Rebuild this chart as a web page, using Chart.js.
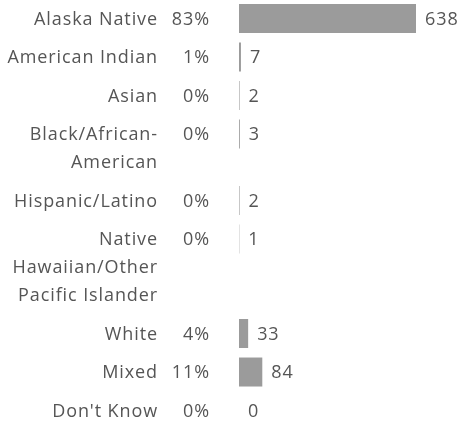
<!DOCTYPE html>
<html>
<head>
<meta charset="utf-8">
<script src="https://cdn.jsdelivr.net/npm/chart.js@4"></script>
<style>
  html, body { margin: 0; padding: 0; background: #ffffff; }
  #wrap { width: 462px; height: 424px; position: relative; }
</style>
</head>
<body>
<div id="wrap"><canvas id="c"></canvas></div>
<script>
// ---- data ----
const categories = [
  ["Alaska Native"],
  ["American Indian"],
  ["Asian"],
  ["Black/African-", "American"],
  ["Hispanic/Latino"],
  ["Native", "Hawaiian/Other", "Pacific Islander"],
  ["White"],
  ["Mixed"],
  ["Don't Know"]
];
const counts = [638, 7, 2, 3, 2, 1, 33, 84, 0];
const percents = [83, 1, 0, 0, 0, 0, 4, 11, 0];

// ---- layout helpers (row positions follow the number of label lines) ----
const LINE_RATIO = 28 / 38.5;
const rowPos = [];
categories.reduce((acc, lines, i) => {
  rowPos.push(acc);
  return acc + 1 + (lines.length - 1) * LINE_RATIO;
}, 0);

const FONT = '18px "Open Sans", sans-serif';
const TEXT_COLOR = '#555555';
const BAR_COLOR = '#9b9b9b';

const textPlugin = {
  id: 'rowText',
  afterDatasetsDraw(chart) {
    const ctx = chart.ctx;
    const xs = chart.scales.x, ys = chart.scales.y;
    ctx.save();
    ctx.font = FONT;
    ctx.fillStyle = TEXT_COLOR;
    ctx.textBaseline = 'middle';
    if ('letterSpacing' in ctx) ctx.letterSpacing = '0.9px';
    categories.forEach((lines, i) => {
      const yp = ys.getPixelForValue(rowPos[i]) + 1;
      ctx.textAlign = 'right';
      lines.forEach((ln, k) => ctx.fillText(ln, 158, yp + k * 28));
      ctx.fillText(percents[i] + '%', 210, yp);
      ctx.textAlign = 'left';
      ctx.fillText(String(counts[i]), xs.getPixelForValue(counts[i]) + 9, yp);
    });
    ctx.restore();
  }
};

new Chart(document.getElementById('c'), {
  type: 'bar',
  data: {
    datasets: [{
      data: counts.map((v, i) => ({ x: v, y: rowPos[i] })),
      backgroundColor: BAR_COLOR,
      borderWidth: 0,
      inflateAmount: 0,
      barThickness: 29
    }]
  },
  options: {
    indexAxis: 'y',
    responsive: true,
    maintainAspectRatio: false,
    animation: false,
    layout: { padding: { left: 239, right: 46, top: 0, bottom: 0 } },
    scales: {
      x: { type: 'linear', display: false, min: 0, max: Math.max(...counts) },
      y: { type: 'linear', display: false, reverse: true, offset: false,
           min: -0.48, max: rowPos[rowPos.length - 1] + 0.35 }
    },
    plugins: { legend: { display: false }, tooltip: { enabled: false } }
  },
  plugins: [textPlugin]
});
</script>
</body>
</html>
